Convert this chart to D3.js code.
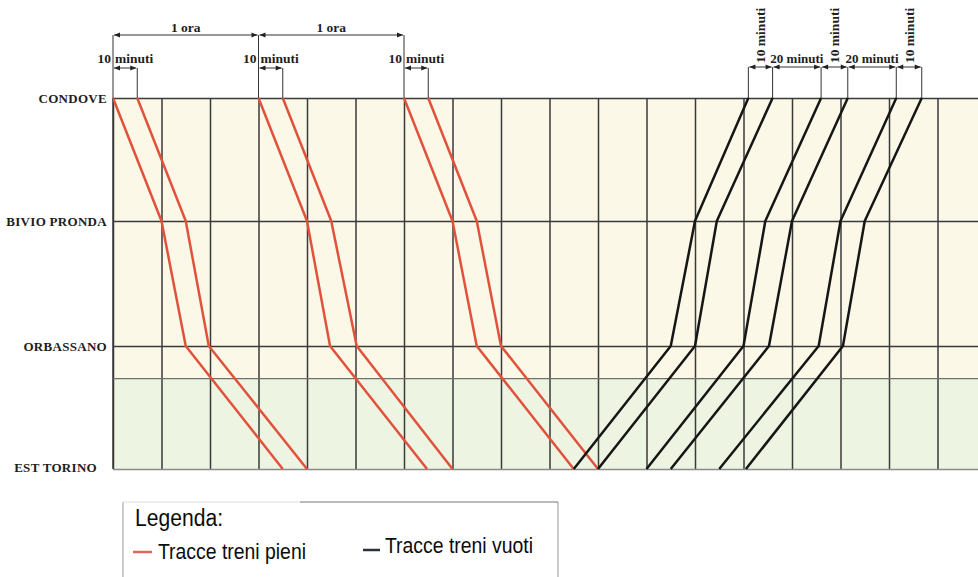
<!DOCTYPE html>
<html>
<head>
<meta charset="utf-8">
<script src="https://cdn.jsdelivr.net/npm/d3@7"></script>
<style>
  html, body { margin: 0; padding: 0; background: #ffffff; }
  svg { display: block; }
</style>
</head>
<body>
<svg id="chart" width="978" height="577"></svg>
<script>
// ---------------- DATA ----------------
const stations = ["CONDOVE", "BIVIO PRONDA", "ORBASSANO", "EST TORINO"];
const stationKm = [0, 9.95, 20.05, 30];          // relative distance along the line
const greenZoneStartKm = 22.7;                  // start of the shaded zone near Torino
const gridMinutes = d3.range(0, 341, 20);       // vertical grid every 20 minutes

// loaded trains (red): minutes at CONDOVE, BIVIO PRONDA, ORBASSANO, EST TORINO
const fullTrains = [
  [0, 20, 30, 70],
  [10, 30, 39.5, 80],
  [60, 80, 89.5, 129.5],
  [70, 90, 100.5, 140],
  [120, 140, 150, 190],
  [130, 150, 160, 200]
];
// empty trains (black): minutes at CONDOVE, BIVIO PRONDA, ORBASSANO, EST TORINO
const emptyTrains = [
  [262, 240, 230, 190],
  [272, 249, 240, 200],
  [292, 269, 260, 220],
  [303, 280, 270.5, 230],
  [323, 300, 291, 250],
  [333.5, 310, 301, 261]
];
// dimension annotations
const hourDims = [[0, 60, "1 ora"], [60, 120, "1 ora"]];
const tenMinDims = [[0, 10], [60, 70], [120, 130]];
const rightDimTicks = [262, 272, 292, 303, 323, 333.5];
const rightDimLabels = ["10 minuti", "20 minuti", "10 minuti", "20 minuti", "10 minuti"];
const legendItems = [["Tracce treni pieni", "full"], ["Tracce treni vuoti", "empty"]];

// ---------------- DRAW ----------------
const W = 978, H = 577;
const svg = d3.select("#chart");
const x = d3.scaleLinear().domain([0, 360]).range([113, 986]);
const y = d3.scaleLinear().domain([0, 30]).range([98, 469]);
const colors = { full: "#e0523c", empty: "#161616" };

const serif = "'Liberation Serif', 'Times New Roman', serif";
const sans = "'Liberation Sans', Arial, sans-serif";

svg.append("defs").append("clipPath").attr("id", "clip")
  .append("rect").attr("x", x(0)).attr("y", 0).attr("width", W - x(0)).attr("height", H);

const defs = svg.select("defs");
defs.append("marker").attr("id", "arr").attr("viewBox", "0 0 10 10")
  .attr("refX", 10).attr("refY", 5).attr("markerWidth", 8).attr("markerHeight", 6)
  .attr("markerUnits", "userSpaceOnUse").attr("orient", "auto-start-reverse")
  .append("path").attr("d", "M0,1 L10,5 L0,9 Z").attr("fill", "#222");

// backgrounds
svg.append("rect").attr("x", x(0)).attr("y", y(0))
  .attr("width", W - x(0)).attr("height", y(greenZoneStartKm) - y(0)).attr("fill", "#fbf8e7");
svg.append("rect").attr("x", x(0)).attr("y", y(greenZoneStartKm))
  .attr("width", W - x(0)).attr("height", y(30) - y(greenZoneStartKm)).attr("fill", "#edf4e2");

// vertical grid via axis
const gx = svg.append("g").attr("transform", `translate(0,${y(30)})`)
  .call(d3.axisBottom(x).tickValues(gridMinutes).tickSize(-(y(30) - y(0))).tickFormat(""));
gx.select(".domain").remove();
gx.selectAll(".tick line").attr("stroke", "#3a3a3a").attr("stroke-width", 1.5);

// horizontal station lines + labels via axis
const gy = svg.append("g").attr("transform", `translate(${x(0)},0)`)
  .call(d3.axisLeft(y).tickValues(stationKm).tickSize(-(W - x(0)))
    .tickPadding(6).tickFormat((d, i) => stations[i]));
gy.select(".domain").attr("stroke", "#3a3a3a").attr("stroke-width", 1.5)
  .attr("d", `M0,${y(0)}V${y(30)}`);
gy.selectAll(".tick line").attr("stroke", (d, i) => i === 3 ? "#8a8a8a" : "#3a3a3a")
  .attr("stroke-width", 1.5);
gy.selectAll(".tick text")
  .attr("font-family", serif).attr("font-weight", "bold").attr("font-size", 13)
  .attr("letter-spacing", 0.3).attr("fill", "#1e1e1e")
  .attr("dx", (d, i) => i === 3 ? -10 : 0)
  .attr("dy", (d, i) => i === 3 ? "0.2em" : "0.32em");

// green zone boundary
svg.append("line").attr("x1", x(0)).attr("x2", W)
  .attr("y1", y(greenZoneStartKm)).attr("y2", y(greenZoneStartKm))
  .attr("stroke", "#6f6f6f").attr("stroke-width", 1.2);

// train paths
const line = d3.line().x(d => x(d[0])).y(d => y(d[1]));
const gTrains = svg.append("g").attr("clip-path", "url(#clip)");
gTrains.selectAll("path.full").data(fullTrains).join("path").attr("class", "full")
  .attr("d", t => line(t.map((m, i) => [m, stationKm[i]])))
  .attr("fill", "none").attr("stroke", colors.full).attr("stroke-width", 2.5)
  .attr("stroke-linejoin", "round");
gTrains.selectAll("path.empty").data(emptyTrains).join("path").attr("class", "empty")
  .attr("d", t => line(t.map((m, i) => [m, stationKm[i]])))
  .attr("fill", "none").attr("stroke", colors.empty).attr("stroke-width", 2.5)
  .attr("stroke-linejoin", "round");

// ---- annotations (left) ----
const ann = svg.append("g").attr("stroke", "#333").attr("stroke-width", 1);
const hourY = 35, tenY = 68;
hourDims.forEach(([a, b, lab]) => {
  ann.append("line").attr("x1", x(a)).attr("x2", x(a)).attr("y1", hourY).attr("y2", y(0));
  ann.append("line").attr("x1", x(a) + 1).attr("x2", x(b) - 1).attr("y1", hourY).attr("y2", hourY)
    .attr("marker-start", "url(#arr)").attr("marker-end", "url(#arr)");
  svg.append("text").attr("x", (x(a) + x(b)) / 2).attr("y", hourY - 3)
    .attr("text-anchor", "middle").attr("font-family", serif).attr("font-weight", "bold")
    .attr("font-size", 13.5).attr("fill", "#1e1e1e").text(lab);
});
ann.append("line").attr("x1", x(120)).attr("x2", x(120)).attr("y1", hourY).attr("y2", y(0));
tenMinDims.forEach(([a, b]) => {
  ann.append("line").attr("x1", x(b)).attr("x2", x(b)).attr("y1", tenY).attr("y2", y(0));
  ann.append("line").attr("x1", x(a) + 1).attr("x2", x(b) - 1).attr("y1", tenY).attr("y2", tenY)
    .attr("marker-start", "url(#arr)").attr("marker-end", "url(#arr)");
  svg.append("text").attr("x", x(a) - 2).attr("y", 63).attr("text-anchor", "end")
    .attr("font-family", serif).attr("font-weight", "bold").attr("font-size", 13.5)
    .attr("fill", "#1e1e1e").text("10");
  svg.append("text").attr("x", x(a) + 2).attr("y", 63).attr("text-anchor", "start")
    .attr("font-family", serif).attr("font-weight", "bold").attr("font-size", 13.5)
    .attr("fill", "#1e1e1e").text("minuti");
});

// ---- annotations (right) ----
const rY = 67;
rightDimTicks.forEach(m => {
  ann.append("line").attr("x1", x(m)).attr("x2", x(m)).attr("y1", rY).attr("y2", y(0));
});
rightDimLabels.forEach((lab, i) => {
  const a = x(rightDimTicks[i]), b = x(rightDimTicks[i + 1]);
  ann.append("line").attr("x1", a + 1).attr("x2", b - 1).attr("y1", rY).attr("y2", rY)
    .attr("marker-start", "url(#arr)").attr("marker-end", "url(#arr)");
  const t = svg.append("text").attr("font-family", serif).attr("font-weight", "bold")
    .attr("fill", "#1e1e1e").text(lab);
  if (lab.startsWith("10")) {
    t.attr("font-size", 13.5).attr("text-anchor", "start")
      .attr("transform", `translate(${(a + b) / 2 + 4.5},${rY - 4}) rotate(-90)`);
  } else {
    t.attr("font-size", 13).attr("text-anchor", "middle")
      .attr("x", (a + b) / 2).attr("y", rY - 4);
  }
});

// ---- legend ----
const lg = svg.append("g");
lg.append("line").attr("x1", 123).attr("x2", 123).attr("y1", 502).attr("y2", H).attr("stroke", "#999");
lg.append("line").attr("x1", 558).attr("x2", 558).attr("y1", 502).attr("y2", H).attr("stroke", "#999");
lg.append("line").attr("x1", 123).attr("x2", 300).attr("y1", 502).attr("y2", 502).attr("stroke", "#ddd");
lg.append("line").attr("x1", 300).attr("x2", 558).attr("y1", 502).attr("y2", 502).attr("stroke", "#777");
lg.append("text").attr("x", 135).attr("y", 526).attr("font-family", sans)
  .attr("font-size", 23).attr("fill", "#0c0c0c").attr("textLength", 88)
  .attr("lengthAdjust", "spacingAndGlyphs").text("Legenda:");
const legPos = [[133, 152, 552, 158, 559, "#e06655"], [363, 380, 550, 385, 553, "#2b3140"]];
legendItems.forEach(([lab], i) => {
  const [x1, x2, ly, tx, ty, c] = legPos[i];
  lg.append("line").attr("x1", x1).attr("x2", x2).attr("y1", ly).attr("y2", ly)
    .attr("stroke", c).attr("stroke-width", 2.5);
  lg.append("text").attr("x", tx).attr("y", ty).attr("font-family", sans)
    .attr("font-size", 22).attr("fill", "#0c0c0c").attr("textLength", 148)
    .attr("lengthAdjust", "spacingAndGlyphs").text(lab);
});
</script>
</body>
</html>
